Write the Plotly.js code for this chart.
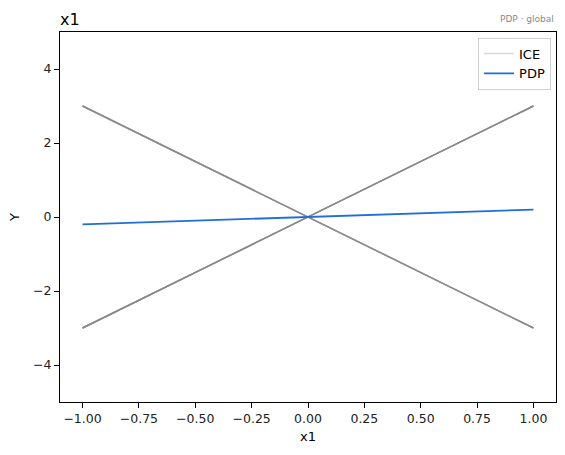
<!DOCTYPE html>
<html><head><meta charset="utf-8">
<script src="https://cdn.plot.ly/plotly-3.0.1.min.js"></script>
<style>body{margin:0;background:#fff}#c{width:565px;height:455px}</style>
</head><body><div id="c"></div>
<script>
var gridX = [-1, 0, 1];
var iceCurves = [
  [-3, 0, 3], [-3, 0, 3], [-3, 0, 3], [-3, 0, 3],
  [-3, 0, 3], [-3, 0, 3], [-3, 0, 3], [-3, 0, 3],
  [3, 0, -3], [3, 0, -3], [3, 0, -3], [3, 0, -3],
  [3, 0, -3], [3, 0, -3], [3, 0, -3]
];
var pdpY = [-0.2, 0, 0.2];
var xTicks = [-1, -0.75, -0.5, -0.25, 0, 0.25, 0.5, 0.75, 1];
var xTickText = ["\u22121.00", "\u22120.75", "\u22120.50", "\u22120.25", "0.00", "0.25", "0.50", "0.75", "1.00"];
var yTicks = [-4, -2, 0, 2, 4];
var yTickText = ["\u22124", "\u22122", "0", "2", "4"];

var traces = [];
iceCurves.forEach(function (c, i) {
  traces.push({
    x: gridX, y: c, mode: 'lines', type: 'scatter',
    name: 'ICE', legendgroup: 'ice', showlegend: i === 0,
    line: {color: '#808080', width: 1.4}, opacity: 0.3, hoverinfo: 'skip'
  });
});
traces.push({
  x: gridX, y: pdpY, mode: 'lines', type: 'scatter', name: 'PDP',
  line: {color: '#1f6fd8', width: 1.8}
});

var axisCommon = {
  showgrid: false, zeroline: false, showline: true, mirror: true,
  linecolor: '#000', linewidth: 1, ticks: 'outside', ticklen: 5,
  tickcolor: '#000', tickwidth: 1, tickfont: {size: 12.5, color: '#222'}
};

var layout = {
  width: 565, height: 455,
  margin: {l: 60, r: 9, t: 32, b: 53},
  paper_bgcolor: '#fff', plot_bgcolor: '#fff',
  font: {family: 'DejaVu Sans, sans-serif', color: '#000'},
  showlegend: true,
  title: {text: 'x1', x: 0, xref: 'paper', xanchor: 'left', y: 0.958, yanchor: 'middle', font: {size: 16, color: '#000'}},
  xaxis: Object.assign({}, axisCommon, {
    range: [-1.1, 1.1], tickvals: xTicks, ticktext: xTickText,
    title: {text: 'x1', font: {size: 13}, standoff: 6}
  }),
  yaxis: Object.assign({}, axisCommon, {
    range: [-5, 5], tickvals: yTicks, ticktext: yTickText,
    title: {text: 'Y', font: {size: 13}, standoff: 10}
  }),
  legend: {
    x: 0.99, xanchor: 'right', y: 0.985, yanchor: 'top',
    bgcolor: 'rgba(255,255,255,0.8)', bordercolor: '#d0d0d0', borderwidth: 1,
    font: {size: 13}, tracegroupgap: 0
  },
  annotations: [{
    text: 'PDP \u00b7 global', xref: 'paper', yref: 'paper', x: 1, y: 1,
    xanchor: 'right', yanchor: 'bottom', yshift: 6, showarrow: false,
    font: {size: 9, color: '#888'}
  }]
};
Plotly.newPlot('c', traces, layout, {displayModeBar: false, staticPlot: true});
</script></body></html>
